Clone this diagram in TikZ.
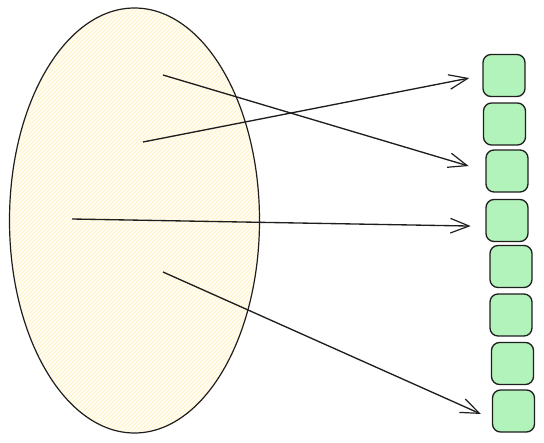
\documentclass[tikz,border=0pt]{standalone}
\usepackage{tikz}
\usetikzlibrary{arrows.meta, calc, patterns, positioning, shapes.geometric}
\definecolor{ink}{HTML}{1E1E1E}
\definecolor{cellgreen}{HTML}{B2F2BB}
\definecolor{setpale}{HTML}{FFFDF3}
\definecolor{sethatch}{HTML}{FFF1BE}
\tikzset{>={Straight Barb[length=14pt, width=11pt, line width=0.9pt]}}
\tikzset{cell/.style = {draw=ink, fill=cellgreen, rounded corners=6pt, rectangle, line width=1pt, minimum size=31.5pt, inner sep=0pt}}
\tikzset{blob/.style = {draw=ink, ellipse, line width=0.9pt, preaction={fill=setpale}, pattern=north east lines, pattern color=sethatch, inner sep=0pt}}
\begin{document}
\begin{tikzpicture}[x=0.75pt, y=-0.75pt]
  \useasboundingbox (0,0) rectangle (544,443);
  \node[blob, minimum width=187.5pt, minimum height=318.75pt] (set) at (134.5,220.5) {};
  \path (504,75.5) node[cell] (c1) {}
      ++(0.5,48.5) node[cell] (c2) {}
      ++(2.5,47) node[cell] (c3) {}
      ++(0,49.5) node[cell] (c4) {}
      ++(4,46) node[cell] (c5) {}
      ++(0,48.5) node[cell] (c6) {}
      ++(1.5,48.5) node[cell] (c7) {}
      ++(1,47.5) node[cell] (c8) {};
  \coordinate (p1) at (163,75);
  \coordinate (p2) at (143,142);
  \coordinate (p3) at (72,219);
  \coordinate (p4) at (163,272);

  \foreach \i/\o/\s in {p1/c3.west/13, p2/c1.west/10, p3/c4.195/11, p4/c8.200/9}
  {
    \draw[->, draw=ink, line width=1pt, shorten >=\s] (\i) -- (\o);
  }
\end{tikzpicture}
\end{document}
